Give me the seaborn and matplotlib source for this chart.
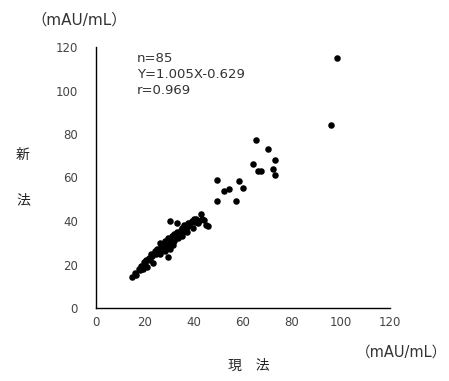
import matplotlib
matplotlib.use("Agg")
import matplotlib.pyplot as plt
import seaborn as sns
import pandas as pd

# current method (x) vs new method (y), mAU/mL
current = [98.2, 96.0, 65.3, 70.2, 73.2, 64.1, 66.1, 67.2, 72.2, 73.2, 49.3, 58.4, 60.1, 52.2, 54.2, 49.3, 57.1,
           14.6, 16.0, 16.5, 17.5, 18.0, 18.5, 19.0, 19.5, 20.0, 20.5, 21.0, 21.5, 22.0, 22.5, 23.0, 23.4, 24.0,
           24.5, 25.0, 25.5, 26.0, 26.5, 27.0, 27.5, 28.0, 28.0, 28.5, 29.0, 29.2, 29.5, 30.0, 30.0, 30.2, 30.5,
           31.0, 31.0, 31.5, 32.0, 32.0, 32.5, 33.0, 33.2, 33.5, 34.0, 34.5, 35.0, 35.0, 35.5, 36.0, 36.5, 37.0,
           37.0, 37.5, 38.0, 38.4, 39.0, 39.5, 40.0, 40.5, 41.0, 41.5, 42.0, 43.0, 43.4, 44.0, 45.0, 45.6, 26.0]
new = [114.9, 84.0, 77.2, 73.0, 68.2, 66.2, 63.1, 63.1, 64.0, 61.0, 59.0, 58.2, 55.0, 53.8, 54.9, 49.3, 49.3,
       14.1, 16.2, 15.0, 18.0, 17.5, 19.5, 18.0, 21.0, 20.5, 22.0, 19.0, 23.0, 22.0, 25.0, 24.0, 20.5, 26.0,
       25.0, 27.0, 26.5, 25.0, 28.0, 29.0, 27.0, 31.0, 26.0, 30.0, 28.5, 23.6, 32.0, 29.5, 27.0, 40.0, 31.5,
       33.0, 30.0, 29.0, 34.0, 31.0, 33.0, 35.0, 39.1, 32.0, 34.5, 36.0, 33.0, 37.0, 35.0, 38.0, 36.0, 37.4,
       35.0, 39.0, 38.0, 38.9, 40.0, 37.0, 40.8, 39.5, 41.0, 39.0, 40.0, 43.1, 41.0, 40.5, 38.0, 37.7, 30.0]
ticks = [0, 20, 40, 60, 80, 100, 120]
stats_lines = ["n=85", "Y=1.005X-0.629", "r=0.969"]
unit_label = "（mAU/mL）"

sns.set_theme(style="white")
plt.rcParams['font.family'] = ['DejaVu Sans', 'Noto Sans CJK JP']
CJK = ['Noto Sans CJK JP', 'DejaVu Sans']

df = pd.DataFrame({"current": current, "new": new})

fig = plt.figure(figsize=(4.49, 3.81), dpi=100)
ax = fig.add_axes([96/449, 1 - 308/381, (390 - 96)/449, (308 - 47)/381])
sns.scatterplot(data=df, x="current", y="new", ax=ax, color="black", s=22,
                edgecolor="black", linewidth=0, legend=False)

ax.set_xlim(0, 120)
ax.set_ylim(0, 120)
ax.set_xticks(ticks)
ax.set_yticks(ticks)
ax.set_xlabel("")
ax.set_ylabel("")
for side in ["top", "right"]:
    ax.spines[side].set_visible(False)
for side in ["left", "bottom"]:
    ax.spines[side].set_color("black")
    ax.spines[side].set_linewidth(1.0)
ax.tick_params(direction="in", length=3, width=0.8, color="black",
               labelsize=8.5, labelcolor="#444444")
ax.tick_params(axis="y", pad=13)
ax.tick_params(axis="x", pad=6)

stat_y = [114.5, 107.2, 99.8]
for line, yy in zip(stats_lines, stat_y):
    ax.text(16.8, yy, line, fontsize=9.5, color="#333333", va="center", ha="left")

fig.text(31/449, 1 - 20/381, unit_label, fontsize=11, color="#333333", va="center", ha="left")
fig.text(447/449, 1 - 352/381, unit_label, fontsize=10.5, color="#333333", va="center", ha="right")
fig.text(16/449, 1 - 155/381, "新", fontsize=10, color="#222222", va="center", ha="left", family=CJK)
fig.text(16/449, 1 - 200/381, "法", fontsize=10, color="#222222", va="center", ha="left", family=CJK)
fig.text(249/449, 1 - 366/381, "現　法", fontsize=10, color="#222222", va="center", ha="center", family=CJK)

fig.savefig("out.png", dpi=100)
